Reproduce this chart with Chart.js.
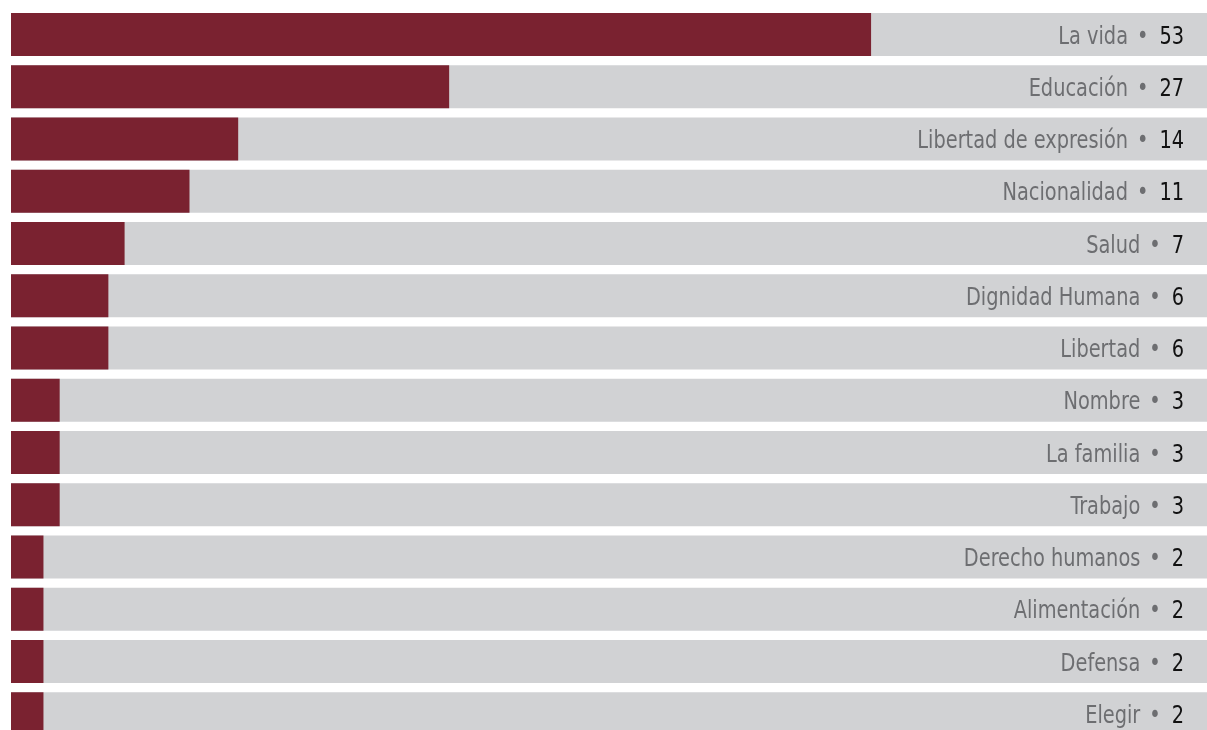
<!DOCTYPE html>
<html>
<head>
<meta charset="utf-8">
<script src="https://cdn.jsdelivr.net/npm/chart.js@4/dist/chart.umd.min.js"></script>
<style>
  html, body { margin: 0; padding: 0; background: #fff; overflow: hidden; }
  #wrap { width: 1207px; height: 740px; position: relative; }
</style>
</head>
<body>
<div id="wrap"><canvas id="chart"></canvas></div>
<script>
const categories = ['La vida', 'Educación', 'Libertad de expresión', 'Nacionalidad', 'Salud',
  'Dignidad Humana', 'Libertad', 'Nombre', 'La familia', 'Trabajo',
  'Derecho humanos', 'Alimentación', 'Defensa', 'Elegir'];
const values = [53, 27, 14, 11, 7, 6, 6, 3, 3, 3, 2, 2, 2, 2];
const maxX = 73.7;
const track = categories.map(() => maxX);

const maroon = '#7a2230', grey = '#d1d2d4', labelGrey = '#6d6e71';
const font = '25px "Liberation Sans Narrow", "DejaVu Sans Condensed", sans-serif';
const squeeze = 0.86;

// labels drawn inside the grey track, right aligned: "name • value"
const labelsPlugin = {
    id: 'rowLabels',
    afterDatasetsDraw(c) {
        const ctx = c.ctx, y = c.scales.y;
        const right = c.chartArea.right - 23;
        ctx.save();
        ctx.font = font;
        ctx.textAlign = 'right';
        ctx.textBaseline = 'alphabetic';
        categories.forEach((name, i) => {
            const cy = y.getPixelForValue(i) + 9;
            ctx.save();
            ctx.translate(right, cy);
            ctx.scale(squeeze, 1);
            let x = 0;
            const v = String(values[i]);
            ctx.fillStyle = '#111';
            ctx.fillText(v, x, 0);
            x -= ctx.measureText(v).width + 11 / squeeze;
            ctx.fillStyle = labelGrey;
            ctx.fillText('•', x, 0);
            x -= ctx.measureText('•').width + 9 / squeeze;
            ctx.fillText(name, x, 0);
            ctx.restore();
        });
        ctx.restore();
    }
};

new Chart(document.getElementById('chart'), {
    type: 'bar',
    data: {
        labels: categories,
        datasets: [
            { data: values, backgroundColor: maroon, order: 0 },
            { data: track, backgroundColor: grey, order: 1 }
        ]
    },
    options: {
        indexAxis: 'y',
        responsive: true,
        maintainAspectRatio: false,
        animation: false,
        layout: { padding: { left: 11, top: 8.4, right: 0, bottom: 0 } },
        datasets: { bar: { grouped: false, barPercentage: 0.823, categoryPercentage: 1, borderWidth: 0 } },
        plugins: { legend: { display: false }, tooltip: { enabled: false } },
        scales: {
            x: { display: false, min: 0, max: maxX },
            y: { display: false }
        }
    },
    plugins: [labelsPlugin]
});
</script>
</body>
</html>
